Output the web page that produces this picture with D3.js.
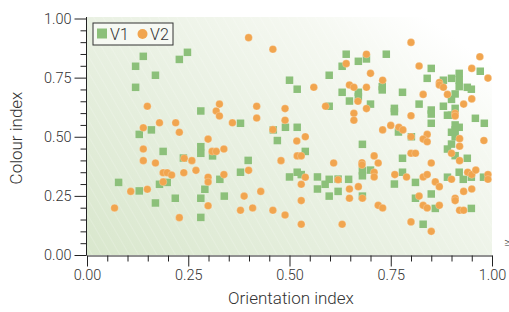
<!DOCTYPE html>
<html><head><meta charset="utf-8">
<script src="https://cdn.jsdelivr.net/npm/d3@7"></script>
<style>
body{margin:0;background:#fff}
svg{display:block}
text{font-family:Roboto,"Liberation Sans",sans-serif;font-weight:300;fill:#333}
</style>
</head><body><svg id="c" width="509" height="312"></svg>
<script>
const seriesNames = ["V1", "V2"];
const v1X = [0.139,0.248,0.228,0.120,0.169,0.120,0.281,0.129,0.159,0.640,0.630,0.598,0.500,0.519,0.630,0.648,0.598,0.379,0.460,0.490,0.519,0.470,0.670,0.690,0.739,0.850,0.840,0.880,0.900,0.919,0.919,0.919,0.971,0.939,0.949,0.729,0.729,0.779,0.670,0.670,0.700,0.909,0.900,0.820,0.759,0.759,0.850,0.850,0.880,0.909,0.890,0.900,0.959,0.850,0.981,0.909,0.919,0.909,0.769,0.900,0.909,0.801,0.188,0.238,0.281,0.281,0.310,0.078,0.129,0.179,0.198,0.169,0.218,0.281,0.291,0.328,0.281,0.398,0.379,0.500,0.519,0.529,0.539,0.569,0.588,0.598,0.620,0.646,0.569,0.620,0.598,0.339,0.680,0.900,0.890,0.909,0.939,0.779,0.680,0.680,0.700,0.779,0.811,0.759,0.890,0.919,0.929,0.949,0.979,0.680,0.811,0.850,0.860,0.949,0.830];
const v1Y = [0.840,0.857,0.827,0.798,0.760,0.709,0.609,0.510,0.529,0.849,0.798,0.760,0.739,0.701,0.688,0.651,0.629,0.557,0.529,0.540,0.540,0.484,0.819,0.829,0.849,0.789,0.747,0.739,0.747,0.768,0.740,0.712,0.777,0.709,0.701,0.712,0.698,0.688,0.688,0.669,0.638,0.681,0.658,0.638,0.620,0.606,0.613,0.596,0.629,0.620,0.591,0.591,0.578,0.557,0.557,0.550,0.540,0.529,0.520,0.519,0.500,0.500,0.438,0.410,0.458,0.430,0.419,0.307,0.271,0.299,0.307,0.220,0.240,0.240,0.278,0.320,0.159,0.400,0.350,0.330,0.350,0.340,0.438,0.330,0.299,0.320,0.321,0.320,0.279,0.269,0.249,0.249,0.468,0.469,0.448,0.420,0.409,0.409,0.356,0.335,0.359,0.350,0.307,0.300,0.329,0.350,0.320,0.329,0.329,0.249,0.240,0.258,0.197,0.197,0.130];
const v2X = [0.149,0.139,0.179,0.219,0.228,0.299,0.319,0.327,0.327,0.399,0.459,0.640,0.560,0.648,0.419,0.489,0.419,0.489,0.359,0.589,0.459,0.539,0.518,0.800,0.690,0.700,0.820,0.730,0.950,0.970,0.990,0.870,0.870,0.880,0.890,0.659,0.690,0.669,0.830,0.950,0.930,0.690,0.659,0.659,0.800,0.909,0.909,0.750,0.730,0.770,0.780,0.840,0.830,0.800,0.920,0.980,0.139,0.139,0.169,0.188,0.198,0.209,0.188,0.240,0.259,0.239,0.269,0.299,0.299,0.309,0.319,0.108,0.149,0.068,0.299,0.228,0.338,0.479,0.519,0.529,0.609,0.399,0.338,0.539,0.529,0.620,0.429,0.388,0.529,0.648,0.648,0.379,0.409,0.459,0.489,0.529,0.630,0.840,0.920,0.709,0.679,0.679,0.719,0.800,0.811,0.850,0.900,0.920,0.709,0.709,0.760,0.789,0.830,0.840,0.860,0.870,0.900,0.940,0.950,0.960,0.990,0.990,0.670,0.680,0.820,0.930,0.950,0.909,0.909,0.719,0.730,0.830,0.840,0.870,0.920,0.930,0.800,0.850];
const v2Y = [0.629,0.538,0.559,0.559,0.519,0.490,0.609,0.638,0.588,0.919,0.870,0.809,0.709,0.719,0.629,0.619,0.579,0.570,0.559,0.629,0.530,0.500,0.482,0.899,0.849,0.768,0.799,0.739,0.789,0.838,0.748,0.729,0.719,0.709,0.679,0.709,0.709,0.650,0.679,0.660,0.638,0.619,0.599,0.570,0.589,0.599,0.588,0.548,0.529,0.540,0.529,0.510,0.490,0.500,0.492,0.484,0.448,0.399,0.389,0.348,0.348,0.338,0.309,0.409,0.399,0.348,0.358,0.329,0.309,0.438,0.438,0.269,0.278,0.199,0.208,0.158,0.448,0.399,0.419,0.419,0.389,0.358,0.340,0.329,0.299,0.318,0.269,0.249,0.230,0.279,0.240,0.189,0.199,0.189,0.169,0.130,0.130,0.479,0.460,0.419,0.390,0.381,0.389,0.430,0.430,0.389,0.430,0.399,0.350,0.330,0.340,0.330,0.330,0.340,0.309,0.289,0.320,0.350,0.340,0.359,0.340,0.320,0.289,0.240,0.249,0.269,0.279,0.240,0.230,0.210,0.199,0.210,0.199,0.210,0.189,0.189,0.140,0.100];
const majorTicks = [0, 0.25, 0.5, 0.75, 1];
const minorTicks = [0.05,0.1,0.15,0.2,0.3,0.35,0.4,0.45,0.55,0.6,0.65,0.7,0.8,0.85,0.9,0.95];
const xTitle = "Orientation index", yTitle = "Colour index";

const svg = d3.select("#c");
const x = d3.scaleLinear().domain([0,1]).range([87,492]);
const y = d3.scaleLinear().domain([0,1]).range([255,18.5]);
const green = "#8cc07a", orange = "#f1a54f";

const defs = svg.append("defs");
const lg = defs.append("linearGradient").attr("id","bg").attr("x1","0").attr("y1","1").attr("x2","1").attr("y2","0.2");
lg.append("stop").attr("offset","0").attr("stop-color","#d9e7cd");
lg.append("stop").attr("offset","0.45").attr("stop-color","#e8f0e1");
lg.append("stop").attr("offset","0.8").attr("stop-color","#f5f8f1");
lg.append("stop").attr("offset","1").attr("stop-color","#ffffff");
const pat = defs.append("pattern").attr("id","hatch").attr("width",8).attr("height",8)
  .attr("patternUnits","userSpaceOnUse").attr("patternTransform","rotate(-30)");
pat.append("line").attr("x1",0).attr("y1",0).attr("x2",0).attr("y2",8)
  .attr("stroke","#fff").attr("stroke-width",1).attr("stroke-opacity",0.35);

const px0 = x(0), px1 = x(1), py0 = y(0), py1 = y(1) - 1.5;
svg.append("rect").attr("x",px0).attr("y",py1).attr("width",px1-px0).attr("height",py0-py1).attr("fill","url(#bg)");
svg.append("rect").attr("x",px0).attr("y",py1).attr("width",px1-px0).attr("height",py0-py1).attr("fill","url(#hatch)");

// axes
function styleAxis(g){
  g.selectAll("path.domain").attr("stroke","#222").attr("stroke-width",1);
  g.selectAll(".tick line").attr("stroke","#222");
  g.selectAll(".tick text").style("font-size","14.5px").style("font-family","Roboto,'Liberation Sans',sans-serif").style("font-weight",300).attr("fill","#333");
}
const xg = svg.append("g").attr("transform",`translate(0,${py0+0.5})`)
  .call(d3.axisBottom(x).tickValues(majorTicks).tickSize(11).tickSizeOuter(0).tickPadding(3).tickFormat(d3.format(".2f")));
styleAxis(xg);
const xm = svg.append("g").attr("transform",`translate(0,${py0+0.5})`)
  .call(d3.axisBottom(x).tickValues(minorTicks).tickSize(6).tickFormat(""));
xm.select("path.domain").remove(); styleAxis(xm);
const yg = svg.append("g").attr("transform",`translate(${px0-0.5},0)`)
  .call(d3.axisLeft(y).tickValues(majorTicks).tickSize(12).tickSizeOuter(0).tickPadding(3).tickFormat(d3.format(".2f")));
styleAxis(yg);
yg.select("path.domain").attr("d",`M0,${py1}V${py0+0.5}`);
const ym = svg.append("g").attr("transform",`translate(${px0-0.5},0)`)
  .call(d3.axisLeft(y).tickValues(minorTicks).tickSize(6).tickFormat(""));
ym.select("path.domain").remove(); styleAxis(ym);

// titles
svg.append("text").attr("x",291).attr("y",304).attr("text-anchor","middle").style("font-size","17px").text(xTitle);
svg.append("text").attr("transform","translate(22,138) rotate(-90)").attr("text-anchor","middle").style("font-size","17px").text(yTitle);

// points
const sq = 7.5;
svg.append("g").selectAll("rect").data(d3.range(v1X.length)).join("rect")
  .attr("x",i=>x(v1X[i])-sq/2).attr("y",i=>y(v1Y[i])-sq/2).attr("width",sq).attr("height",sq).attr("fill",green);
svg.append("g").selectAll("circle").data(d3.range(v2X.length)).join("circle")
  .attr("cx",i=>x(v2X[i])).attr("cy",i=>y(v2Y[i])).attr("r",3.8).attr("fill",orange)
  .attr("stroke","#fff").attr("stroke-opacity",0.35).attr("stroke-width",0.6);

// legend
const lgd = svg.append("g");
lgd.append("rect").attr("x",93).attr("y",23).attr("width",80).attr("height",22).attr("fill","#f7f9f4").attr("fill-opacity",0.9).attr("stroke","#333").attr("stroke-width",1);
lgd.append("rect").attr("x",97).attr("y",28.5).attr("width",10).attr("height",10).attr("fill",green);
lgd.append("text").attr("x",110).attr("y",39.5).style("font-size","16px").text(seriesNames[0]);
lgd.append("circle").attr("cx",142.5).attr("cy",34).attr("r",5).attr("fill",orange);
lgd.append("text").attr("x",150).attr("y",39.5).style("font-size","16px").text(seriesNames[1]);

svg.append("text").attr("x",507).attr("y",246).attr("text-anchor","middle").style("font-size","11px").text("≥");
</script>
</body></html>
